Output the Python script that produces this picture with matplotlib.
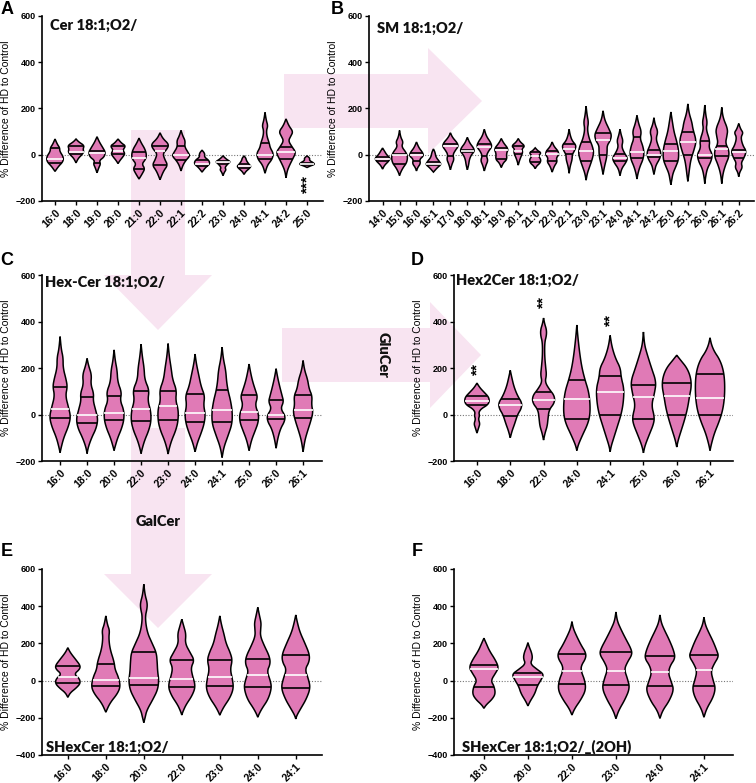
import numpy as np
import matplotlib.pyplot as plt
from matplotlib.patches import Polygon

# ----------------------------------------------------------
# data: per violin -> min, max, quartiles and outline knots (value, half-width)
# ----------------------------------------------------------
a_cats = ["16:0", "18:0", "19:0", "20:0", "21:0", "22:0", "22:1", "22:2", "23:0", "24:0", "24:1", "24:2", "25:0"]
a_lo = [-72, -35, -78, -38, -105, -108, -70, -75, -90, -85, -80, -100, -55]
a_hi = [68, 68, 78, 68, 72, 95, 105, 20, -5, -5, 183, 155, -5]
a_q1 = [-35, 2, -35, 2, -60, -43, -22, -48, -38, -58, -18, -18, -45]
a_med = [-18, 14, 8, 18, -15, 17, -3, -38, -33, -50, 0, 10, -40]
a_q3 = [30, 40, 18, 38, 10, 40, 38, -22, -28, -42, 50, 35, -35]
a_shape = [
    [(45, .1), (30, .2), (15, .2), (-10, .36), (-30, .34), (-50, .15)],
    [(55, .12), (40, .35), (25, .3), (12, .33), (0, .25), (-15, .1)],
    [(55, .1), (30, .25), (10, .36), (-10, .3), (-25, .1), (-40, .15), (-55, .08)],
    [(50, .15), (38, .33), (20, .2), (5, .3), (-10, .2), (-25, .08)],
    [(50, .1), (25, .25), (0, .32), (-20, .28), (-40, .12), (-60, .25), (-80, .15)],
    [(70, .12), (45, .38), (25, .3), (5, .12), (-20, .2), (-45, .33), (-70, .15)],
    [(80, .08), (60, .18), (35, .15), (10, .3), (-5, .38), (-25, .2), (-45, .08)],
    [(5, .12), (-10, .1), (-25, .3), (-40, .33), (-55, .15)],
    [(-20, .15), (-30, .32), (-40, .2), (-55, .08), (-65, .13), (-75, .06)],
    [(-15, .08), (-25, .1), (-40, .2), (-50, .3), (-60, .22), (-72, .08)],
    [(150, .05), (125, .12), (105, .06), (80, .08), (50, .18), (30, .22), (5, .36), (-20, .3), (-45, .1)],
    [(125, .12), (100, .3), (80, .2), (60, .1), (35, .25), (10, .42), (-15, .3), (-45, .15), (-70, .05)],
    [(-15, .12), (-25, .1), (-35, .28), (-42, .32), (-48, .15)],
]

b_cats = ["14:0", "15:0", "16:0", "16:1", "17:0", "18:0", "18:1", "19:0", "20:1", "21:0", "22:0",
          "22:1", "23:0", "23:1", "24:0", "24:1", "24:2", "25:0", "25:1", "26:0", "26:1", "26:2"]
b_lo = [-62, -90, -70, -75, -65, -65, -70, -55, -45, -60, -75, -80, -110, -85, -90, -105, -85, -130, -115, -125, -125, -95]
b_hi = [29, 105, 55, 25, 95, 75, 110, 70, 70, 30, 55, 110, 210, 190, 110, 170, 160, 185, 220, 215, 205, 135]
b_q1 = [-25, -40, -25, -45, -5, 10, -5, -20, 5, -30, -25, 5, -25, 0, -25, -15, -10, -25, 0, -15, -5, -15]
b_med = [-18, 0, 0, -40, 38, 18, 35, 20, 18, -5, 5, 25, 18, 65, -15, 10, 0, 15, 55, 0, 25, 10]
b_q3 = [-10, 5, 8, -30, 45, 22, 45, 30, 38, 10, 15, 45, 55, 95, 5, 75, 20, 45, 100, 60, 40, 20]
b_shape = [
    [(15, .1), (0, .2), (-15, .38), (-28, .3), (-45, .1)],
    [(75, .06), (55, .18), (35, .1), (10, .32), (-10, .4), (-35, .35), (-55, .18), (-75, .06)],
    [(30, .12), (10, .3), (-5, .35), (-20, .15), (-38, .2), (-55, .06)],
    [(10, .08), (-10, .12), (-30, .3), (-42, .38), (-55, .2)],
    [(75, .1), (50, .35), (35, .38), (20, .25), (0, .12), (-20, .18), (-40, .08)],
    [(50, .12), (30, .3), (15, .35), (0, .2), (-20, .1), (-45, .06)],
    [(80, .1), (55, .3), (35, .38), (15, .2), (-5, .1), (-25, .18), (-45, .08)],
    [(50, .12), (25, .35), (5, .25), (-20, .28), (-35, .1)],
    [(55, .1), (38, .33), (25, .18), (10, .22), (-5, .15), (-25, .06)],
    [(18, .12), (8, .3), (-5, .15), (-20, .28), (-35, .25), (-48, .08)],
    [(35, .1), (15, .3), (0, .32), (-15, .2), (-30, .25), (-50, .1)],
    [(85, .05), (60, .15), (40, .35), (20, .28), (0, .15), (-20, .15), (-50, .05)],
    [(170, .05), (140, .12), (110, .06), (70, .15), (40, .3), (10, .38), (-20, .3), (-50, .18), (-80, .06)],
    [(150, .08), (110, .3), (85, .42), (60, .35), (40, .2), (15, .2), (-10, .18), (-40, .1), (-60, .05)],
    [(85, .06), (60, .15), (35, .08), (10, .2), (-15, .38), (-35, .28), (-60, .08)],
    [(135, .08), (100, .22), (70, .15), (40, .28), (10, .35), (-20, .3), (-50, .15), (-80, .05)],
    [(130, .06), (100, .2), (70, .1), (40, .2), (10, .35), (-15, .3), (-45, .1), (-65, .05)],
    [(150, .06), (100, .15), (60, .28), (20, .38), (-20, .38), (-50, .25), (-80, .1), (-110, .04)],
    [(180, .06), (140, .2), (110, .25), (60, .42), (20, .3), (-20, .15), (-60, .08), (-90, .04)],
    [(170, .05), (140, .12), (110, .06), (60, .25), (30, .2), (0, .38), (-30, .3), (-60, .12), (-95, .04)],
    [(160, .06), (110, .3), (80, .25), (50, .18), (20, .35), (-10, .35), (-40, .2), (-80, .06)],
    [(110, .1), (95, .22), (75, .1), (40, .2), (15, .38), (-15, .25), (-35, .12), (-55, .18), (-75, .05)],
]

c_cats = ["16:0", "18:0", "20:0", "22:0", "23:0", "24:0", "24:1", "25:0", "26:0", "26:1"]
c_lo = [-164, -168, -155, -168, -170, -160, -185, -155, -145, -160]
c_hi = [335, 241, 278, 302, 305, 260, 290, 217, 197, 232]
c_q1 = [-14, -38, -25, -28, -25, -33, -33, -25, -20, -15]
c_med = [23, 0, 8, 22, 37, 8, 18, 12, -3, 18]
c_q3 = [119, 75, 80, 103, 103, 90, 107, 85, 62, 86]
c_shape = [
    [(280, .04), (245, .1), (200, .1), (150, .2), (119, .24), (80, .18), (30, .28), (-10, .35), (-50, .28), (-100, .12), (-140, .04)],
    [(210, .05), (170, .15), (130, .12), (90, .22), (60, .2), (20, .28), (-20, .36), (-60, .3), (-100, .15), (-140, .04)],
    [(230, .04), (190, .1), (140, .12), (95, .25), (60, .2), (20, .32), (-20, .33), (-60, .25), (-100, .12), (-135, .04)],
    [(250, .04), (200, .1), (150, .12), (105, .27), (60, .22), (15, .32), (-30, .33), (-70, .25), (-110, .12), (-145, .04)],
    [(250, .04), (200, .1), (150, .15), (105, .28), (60, .25), (20, .34), (-30, .33), (-70, .25), (-110, .12), (-145, .04)],
    [(220, .04), (170, .12), (120, .2), (80, .32), (40, .28), (0, .34), (-40, .3), (-80, .2), (-120, .08)],
    [(240, .04), (190, .12), (140, .15), (100, .2), (60, .28), (10, .34), (-40, .33), (-90, .2), (-140, .06)],
    [(180, .05), (140, .12), (100, .22), (75, .28), (40, .2), (0, .32), (-35, .3), (-70, .2), (-110, .08)],
    [(160, .05), (120, .12), (80, .2), (55, .25), (25, .15), (-5, .3), (-30, .28), (-60, .15), (-100, .06)],
    [(190, .05), (150, .15), (110, .2), (80, .3), (40, .28), (10, .33), (-30, .25), (-70, .15), (-110, .06)],
]

d_cats = ["16:0", "18:0", "22:0", "24:0", "24:1", "25:0", "26:0", "26:1"]
d_lo = [-80, -100, -110, -155, -160, -165, -140, -155]
d_hi = [135, 190, 415, 385, 340, 355, 255, 330]
d_q1 = [40, -7, 23, -20, 0, -20, 0, -3]
d_med = [59, 40, 62, 66, 95, 76, 79, 73]
d_q3 = [80, 66, 98, 148, 167, 129, 136, 174]
d_shape = [
    [(115, .08), (95, .2), (75, .32), (55, .34), (40, .28), (25, .12), (10, .05), (-5, .07), (-20, .04), (-40, .08), (-55, .05)],
    [(160, .04), (120, .1), (80, .2), (50, .32), (25, .3), (0, .2), (-40, .12), (-70, .05)],
    [(390, .03), (365, .08), (340, .08), (310, .03), (250, .03), (200, .06), (170, .08), (140, .04), (110, .15), (80, .3), (50, .3), (20, .15), (-20, .12), (-50, .1), (-80, .04)],
    [(330, .03), (260, .08), (200, .14), (150, .22), (100, .32), (50, .36), (0, .36), (-40, .3), (-90, .15), (-130, .04)],
    [(290, .05), (240, .15), (200, .28), (160, .3), (110, .38), (50, .36), (0, .3), (-50, .2), (-100, .1), (-135, .03)],
    [(300, .03), (260, .1), (200, .22), (140, .35), (90, .3), (40, .22), (-10, .3), (-40, .28), (-90, .15), (-135, .04)],
    [(235, .1), (200, .28), (160, .38), (120, .4), (80, .35), (30, .3), (-20, .22), (-70, .12), (-110, .04)],
    [(300, .04), (270, .12), (240, .25), (200, .35), (150, .4), (80, .4), (20, .35), (-30, .25), (-80, .12), (-125, .04)],
]

e_cats = ["16:0", "18:0", "20:0", "22:0", "23:0", "24:0", "24:1"]
e_lo = [-90, -170, -226, -185, -186, -197, -206]
e_hi = [177, 348, 518, 330, 348, 394, 353]
e_q1 = [-11, -29, -23, -36, -27, -34, -39]
e_med = [18, 4, 16, 11, 22, 32, 32]
e_q3 = [79, 90, 152, 109, 109, 115, 138]
e_shape = [
    [(150, .06), (110, .2), (80, .3), (60, .28), (35, .15), (10, .28), (-15, .3), (-40, .2), (-65, .06)],
    [(300, .04), (270, .09), (230, .07), (170, .1), (100, .2), (60, .22), (20, .3), (-30, .35), (-70, .28), (-120, .1)],
    [(460, .03), (420, .08), (390, .08), (340, .03), (260, .08), (200, .2), (150, .3), (100, .32), (50, .33), (0, .36), (-50, .33), (-100, .22), (-160, .07), (-200, .03)],
    [(290, .05), (250, .1), (200, .08), (150, .2), (110, .3), (70, .22), (30, .25), (-30, .33), (-80, .25), (-130, .1), (-165, .03)],
    [(300, .04), (250, .1), (200, .15), (150, .25), (110, .3), (60, .25), (10, .3), (-40, .33), (-90, .25), (-140, .1), (-170, .03)],
    [(350, .04), (310, .08), (280, .07), (240, .06), (190, .15), (130, .28), (90, .3), (50, .22), (0, .3), (-40, .33), (-100, .25), (-150, .1), (-180, .03)],
    [(310, .04), (260, .1), (200, .22), (140, .33), (100, .32), (60, .22), (10, .3), (-40, .35), (-100, .25), (-150, .12), (-185, .03)],
]

f_cats = ["18:0", "20:0", "22:0", "23:0", "24:0", "24:1"]
f_lo = [-149, -136, -185, -204, -203, -197]
f_hi = [228, 204, 317, 369, 353, 340]
f_q1 = [-32, -21, -20, -23, -27, -27]
f_med = [61, 21, 50, 54, 45, 57]
f_q3 = [84, 43, 142, 152, 134, 138]
f_shape = [
    [(200, .05), (160, .12), (110, .25), (70, .32), (40, .25), (0, .15), (-30, .22), (-70, .25), (-100, .18), (-130, .05)],
    [(180, .03), (150, .08), (120, .1), (90, .05), (60, .2), (35, .34), (10, .3), (-30, .2), (-70, .15), (-110, .05)],
    [(280, .03), (240, .1), (190, .2), (150, .3), (120, .3), (80, .2), (50, .2), (0, .28), (-50, .3), (-100, .2), (-150, .06)],
    [(320, .03), (280, .1), (230, .2), (170, .33), (140, .35), (100, .25), (60, .18), (10, .25), (-40, .3), (-100, .2), (-160, .06)],
    [(310, .03), (270, .1), (220, .2), (160, .3), (120, .33), (80, .22), (40, .18), (-10, .25), (-50, .3), (-110, .2), (-160, .06)],
    [(300, .03), (260, .1), (210, .2), (160, .28), (130, .32), (90, .22), (50, .15), (0, .2), (-40, .25), (-90, .2), (-150, .06)],
]

# significance marks: (panel, category index, y value, text)
stars = [("A", 12, -128, "***"), ("D", 0, 195, "**"), ("D", 2, 484, "**"), ("D", 4, 406, "**")]

PINK = "#e07ab6"
ARROW = "#f8e4f1"
W, H = 756, 783

plt.rcParams["font.family"] = ["Liberation Sans", "DejaVu Sans"]
fig = plt.figure(figsize=(W / 100, H / 100), dpi=100)


def px(x0, y0, x1, y1):
    # pixel box -> figure fraction rect
    return [x0 / W, 1 - y1 / H, (x1 - x0) / W, (y1 - y0) / H]


def chaikin(pts, n=3):
    for _ in range(n):
        new = [pts[0]]
        for p, q in zip(pts[:-1], pts[1:]):
            new.append(0.75 * p + 0.25 * q)
            new.append(0.25 * p + 0.75 * q)
        new.append(pts[-1])
        pts = np.array(new)
    return pts


def violin(ax, x, lo, hi, q1, med, q3, knots, wscale):
    prof = np.array([(lo, 0)] + sorted(knots) + [(hi, 0)], float)
    prof = chaikin(prof)
    ys, ws = prof[:, 0], prof[:, 1] * wscale
    xs = np.concatenate([x + ws, (x - ws)[::-1]])
    yy = np.concatenate([ys, ys[::-1]])
    ax.fill(xs, yy, fc=PINK, ec="black", lw=1.1, zorder=3)
    for v, c in ((q1, "black"), (q3, "black"), (med, "white")):
        w = np.interp(v, ys, ws)
        ax.plot([x - w, x + w], [v, v], color=c, lw=1.2, zorder=4, solid_capstyle="butt")


# background arrows (pixel outlines)
arrows = [
    [(284, 74), (428, 74), (428, 48), (482, 101), (428, 154), (428, 128), (284, 128)],
    [(131, 130), (185, 130), (185, 275), (212, 275), (158, 330), (104, 275), (131, 275)],
    [(282, 328), (430, 328), (430, 302), (481, 355), (430, 408), (430, 382), (282, 382)],
    [(131, 428), (185, 428), (185, 574), (212, 574), (158, 628), (104, 574), (131, 574)],
]
for pts in arrows:
    fig.patches.append(Polygon([(x / W, 1 - y / H) for x, y in pts], closed=True,
                               transform=fig.transFigure, fc=ARROW, ec="none", zorder=-1))

panels = [
    ("A", px(42, 16, 323, 201), (-0.62, 12.76), (-200, 600), "Cer 18:1;O2/", (0.028, 0.95),
     a_cats, a_lo, a_hi, a_q1, a_med, a_q3, a_shape, (7, 10), 1.12),
    ("B", px(369, 16, 754, 201), (-0.8, 21.9), (-200, 600), "SM 18:1;O2/", (0.02, 0.935),
     b_cats, b_lo, b_hi, b_q1, b_med, b_q3, b_shape, (337, 10), 1.2),
    ("C", px(42, 275, 322, 461), (-0.67, 9.7), (-200, 600), "Hex-Cer 18:1;O2/", (0.01, 0.962),
     c_cats, c_lo, c_hi, c_q1, c_med, c_q3, c_shape, (7, 261), 1.12),
    ("D", px(454, 275, 733, 461), (-0.69, 7.69), (-200, 600), "Hex2Cer 18:1;O2/", (0.007, 0.968),
     d_cats, d_lo, d_hi, d_q1, d_med, d_q3, d_shape, (417, 261), 1.1),
    ("E", px(42, 569, 322, 755), (-0.68, 6.69), (-400, 600), "SHexCer 18:1;O2/", (0.014, 0.043),
     e_cats, e_lo, e_hi, e_q1, e_med, e_q3, e_shape, (7, 551), 1.1),
    ("F", px(454, 569, 733, 755), (-0.68, 5.66), (-400, 600), "SHexCer 18:1;O2/_(2OH)", (0.029, 0.043),
     f_cats, f_lo, f_hi, f_q1, f_med, f_q3, f_shape, (417, 551), 1.05),
]

axes = {}
for (letter, rect, xlim, ylim, title, tpos, cats, lo, hi, q1, med, q3, shape, lpos, wsc) in panels:
    ax = fig.add_axes(rect)
    ax.set_facecolor("none")
    axes[letter] = ax
    for i in range(len(cats)):
        violin(ax, i, lo[i], hi[i], q1[i], med[i], q3[i], shape[i], wsc)
    ax.axhline(0, color="#777777", ls=(0, (1, 1.5)), lw=0.8, zorder=1)
    ax.set_xlim(*xlim)
    ax.set_ylim(*ylim)
    ax.set_yticks(np.arange(ylim[0], ylim[1] + 1, 200))
    ax.set_xticks(range(len(cats)))
    ax.tick_params(length=3, width=1.0, pad=1.5)
    ax.set_xticklabels(cats, rotation=45, ha="right", rotation_mode="anchor")
    for t in ax.get_xticklabels():
        t.set_fontsize(7.5)
        t.set_fontweight("bold")
    for t in ax.get_yticklabels():
        t.set_fontsize(6.5)
        t.set_fontweight("bold")
    for s in ("top", "right"):
        ax.spines[s].set_visible(False)
    for s in ("left", "bottom"):
        ax.spines[s].set_linewidth(1.2)
    ax.set_ylabel("% Difference of HD to Control", fontsize=7.5, labelpad=3)
    ax.text(tpos[0], tpos[1], title, transform=ax.transAxes, ha="left", va="center",
            fontsize=10.5, fontweight="heavy", family="Lato", color="#111111")
    fig.text(lpos[0] / W, 1 - lpos[1] / H, letter, ha="center", va="center",
             fontsize=13, fontweight="bold")

for letter, i, y, s in stars:
    axes[letter].text(i, y, s, rotation=90, ha="center", va="center", fontsize=11, fontweight="bold")

fig.text(383 / W, 1 - 355 / H, "GluCer", rotation=270, ha="center", va="center",
         fontsize=10.5, fontweight="heavy", family="Lato", color="#111111")
fig.text(158 / W, 1 - 522 / H, "GalCer", ha="center", va="center",
         fontsize=10.5, fontweight="heavy", family="Lato", color="#111111")

fig.savefig("out.png", dpi=100)
